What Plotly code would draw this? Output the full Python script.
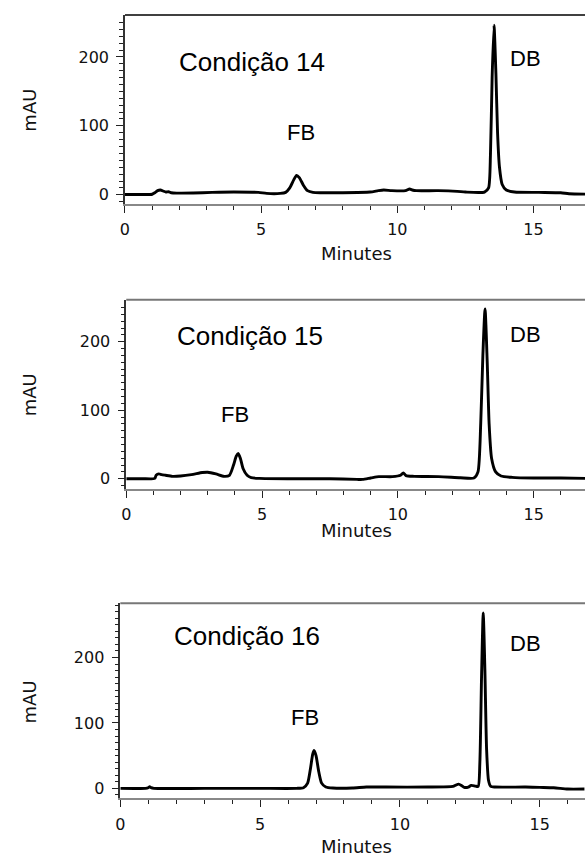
import plotly.graph_objects as go

# Chromatograms (retention time in minutes, absorbance in mAU)
t14 = [0, 0.5, 1.0, 1.1, 1.2, 1.3, 1.4, 1.5, 1.6, 1.7, 1.9, 2.5, 3.2, 4.0, 4.9, 5.2, 5.7,
       5.9, 6.05, 6.2, 6.3, 6.4, 6.55, 6.7, 6.9, 7.2, 8.0, 9.0, 9.3, 9.5, 9.8, 10.3, 10.45,
       10.55, 10.7, 11.5, 12.2, 12.5, 13.2, 13.35, 13.42, 13.48, 13.55, 13.62, 13.68, 13.75,
       13.85, 14.0, 14.3, 15.2, 16.0, 16.3, 16.9]
a14 = [0.5, 0.5, 0.8, 3, 6, 7, 5.5, 4, 4.5, 3, 2.5, 2.6, 3.5, 4, 3.5, 2, 2,
       3.5, 10, 22, 28, 25, 14, 6, 3.5, 3, 3, 4, 6, 7, 6, 6, 8.5,
       7, 6, 6, 5, 4, 4, 10, 60, 170, 246, 175, 90, 40,
       15, 7, 4, 3.5, 3, 1.5, 1]

t15 = [0, 0.6, 1.05, 1.1, 1.2, 1.3, 1.45, 1.7, 2.0, 2.4, 2.8, 3.0, 3.3, 3.6, 3.8, 3.95,
       4.05, 4.12, 4.2, 4.3, 4.45, 4.6, 4.9, 6.0, 7.5, 8.5, 8.7, 9.0, 9.3, 9.8, 10.1, 10.2,
       10.3, 10.6, 11.5, 12.3, 12.8, 12.95, 13.05, 13.13, 13.21, 13.29, 13.36, 13.45, 13.6,
       13.8, 14.2, 15.0, 16.0, 16.9]
a15 = [0, 0, 0.5, 5, 7, 6, 5, 3.5, 4, 6, 9, 9.5, 7, 3.5, 5, 20,
       33, 37, 30, 15, 5, 1.5, 0.5, 0, 0, -1, -1, 1, 3, 3, 5, 8.5,
       4.5, 3.5, 3, 1.5, 1, 10, 80, 180, 248, 170, 80, 30, 10,
       4, 2, 1, 1, 0.5]

t16 = [0, 0.9, 1.0, 1.05, 1.1, 1.2, 3.0, 5.0, 6.3, 6.55, 6.7, 6.8, 6.88, 6.93, 7.0, 7.1,
       7.2, 7.35, 7.6, 8.3, 8.8, 9.5, 11.0, 11.9, 12.0, 12.1, 12.2, 12.3, 12.45, 12.55, 12.7,
       12.8, 12.86, 12.92, 12.98, 13.04, 13.1, 13.17, 13.25, 13.4, 14.5, 15.0, 15.5, 16.0, 16.6]
a16 = [0, 0, 1, 2.5, 1, 0, 0, 0, 0, 1, 8, 30, 52, 58, 50, 25,
       8, 2, 0.5, 0.5, 2, 2, 2, 3, 5, 6.5, 4.5, 1.5, 2, 4.5, 3.5,
       3, 40, 170, 268, 180, 60, 12, 3, 2, 2, 1.5, 1, -1, -1]

conditions = ["Condição 14", "Condição 15", "Condição 16"]
peak_names = ["FB", "DB"]
x_ticks = [0, 5, 10, 15]
y_ticks = [0, 100, 200]

W, H = 585, 859


def px(x, y):
    return x / W, 1 - y / H


# panel geometry in pixels: left, top, bottom, x-range, y-range
panels = [
    dict(t=t14, a=a14, left=121, top=15, bottom=204, xr=[0, 16.89], yr=[-13, 260.9],
         top_color="#000000", top_w=1.5,
         title=(173, 62), fb=(299, 133), db=(524.5, 59), minutes=254, mau=110, top_tick=250),
    dict(t=t15, a=a15, left=122.3, top=300, bottom=489.3, xr=[0, 16.89], yr=[-14.6, 261.4],
         top_color="#777777", top_w=2,
         title=(171, 336), fb=(232, 415), db=(524.5, 335), minutes=531, mau=395, top_tick=250),
    dict(t=t16, a=a16, left=116.3, top=604, bottom=799.3, xr=[0, 16.62], yr=[-15.3, 282.9],
         top_color="#777777", top_w=2,
         title=(168.5, 637), fb=(303, 718), db=(525, 644.5), minutes=None, mau=702.5, top_tick=280),
]

fig = go.Figure()
annotations = []
shapes = []
tick_font = dict(family="DejaVu Sans", size=16, color="#111111")
label_font = dict(family="DejaVu Sans", size=18, color="#111111")
text_font_big = dict(family="Liberation Sans", size=26, color="#000000")
text_font = dict(family="Liberation Sans", size=22, color="#000000")

for i, p in enumerate(panels):
    n = "" if i == 0 else str(i + 1)
    xa, ya = "x" + n, "y" + n
    fig.add_trace(go.Scatter(x=p["t"], y=p["a"], mode="lines", xaxis=xa, yaxis=ya,
                             line=dict(color="black", width=2.9, shape="spline", smoothing=0.6),
                             showlegend=False, hoverinfo="skip"))
    x0 = p["left"] / W
    y0 = 1 - p["bottom"] / H
    y1 = 1 - p["top"] / H
    minor_y = list(range(-10, p["top_tick"] + 1, 10))
    fig.update_layout(**{
        "xaxis" + n: dict(domain=[x0, 1], range=p["xr"], anchor=ya, showgrid=False,
                          zeroline=False, showline=True, linecolor="#888888", linewidth=2,
                          tickmode="array", tickvals=x_ticks, ticks="outside", ticklen=7,
                          tickwidth=1, tickcolor="#222222", tickfont=tick_font,
                          ticklabelstandoff=3,
                          minor=dict(tickmode="linear", tick0=0, dtick=1, ticks="outside",
                                     ticklen=4, tickwidth=1, tickcolor="#222222",
                                     showgrid=False)),
        "yaxis" + n: dict(domain=[y0, y1], range=p["yr"], anchor=xa, showgrid=False,
                          zeroline=False, showline=True, linecolor="#333333", linewidth=1.5,
                          tickmode="array", tickvals=y_ticks, ticks="outside", ticklen=7,
                          tickwidth=1, tickcolor="#222222", tickfont=tick_font,
                          ticklabelstandoff=4,
                          minor=dict(tickmode="array", tickvals=minor_y, ticks="outside",
                                     ticklen=4, tickwidth=1, tickcolor="#222222",
                                     showgrid=False)),
    })
    # top border of the plot box
    shapes.append(dict(type="line", xref="paper", yref="paper", x0=x0, x1=1, y0=y1, y1=y1,
                       line=dict(color=p["top_color"], width=p["top_w"])))
    tx, ty = px(*p["title"])
    annotations.append(dict(text=conditions[i], x=tx, y=ty, xref="paper", yref="paper",
                            xanchor="left", yanchor="middle", showarrow=False, font=text_font_big))
    for name, key in zip(peak_names, ["fb", "db"]):
        ax, ay = px(*p[key])
        annotations.append(dict(text=name, x=ax, y=ay, xref="paper", yref="paper",
                                xanchor="center", yanchor="middle", showarrow=False, font=text_font))
    if p["minutes"] is None:
        # bottom panel: title sits against the lower edge of the figure
        annotations.append(dict(text="Minutes", x=354.5 / W, y=0, xref="paper", yref="paper",
                                xanchor="center", yanchor="bottom", borderpad=0,
                                showarrow=False, font=label_font))
    else:
        mx, my = px(354.5, p["minutes"])
        annotations.append(dict(text="Minutes", x=mx, y=my, xref="paper", yref="paper",
                                xanchor="center", yanchor="middle", showarrow=False,
                                font=label_font))
    ux, uy = px(25, p["mau"])
    annotations.append(dict(text="mAU", x=ux, y=uy, xref="paper", yref="paper", textangle=-90,
                            xanchor="center", yanchor="middle", showarrow=False, font=label_font))

fig.update_layout(width=W, height=H, margin=dict(l=0, r=0, t=0, b=0),
                  paper_bgcolor="white", plot_bgcolor="white",
                  annotations=annotations, shapes=shapes)

fig.write_html("out.html")
